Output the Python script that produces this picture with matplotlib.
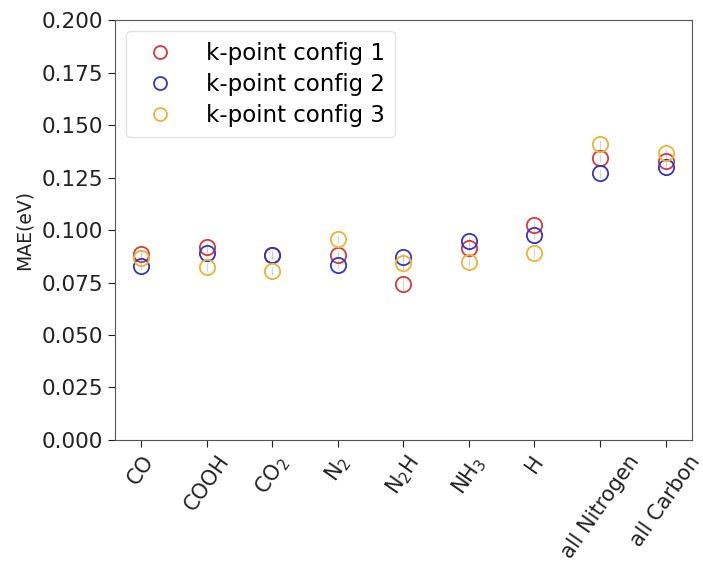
import numpy as np
import matplotlib
matplotlib.use("Agg")
import matplotlib.pyplot as plt

categories = ["CO", "COOH", "CO$_2$", "N$_2$", "N$_2$H", "NH$_3$", "H",
              "all Nitrogen", "all Carbon"]
config1 = [0.0885, 0.0920, 0.0880, 0.0880, 0.0745, 0.0915, 0.1022, 0.1342, 0.1328]
config2 = [0.0828, 0.0892, 0.0880, 0.0835, 0.0872, 0.0950, 0.0978, 0.1270, 0.1300]
config3 = [0.0868, 0.0825, 0.0805, 0.0956, 0.0845, 0.0848, 0.0890, 0.1408, 0.1368]
err1 = [0.002, 0.002, 0.002, 0.002, 0.003, 0.002, 0.002, 0.002, 0.002]
err2 = [0.002, 0.002, 0.002, 0.002, 0.002, 0.002, 0.002, 0.002, 0.002]
err3 = [0.002, 0.002, 0.002, 0.002, 0.003, 0.002, 0.002, 0.002, 0.002]
labels = ["k-point config 1", "k-point config 2", "k-point config 3"]
colors = ["#d83a3a", "#3535c8", "#f0b233"]

fig = plt.figure(figsize=(7.03, 5.61), dpi=100)
ax = fig.add_axes([0.1636, 0.2157, 0.8204, 0.7486])

x = np.arange(len(categories))
for vals, errs, lab, col in zip([config1, config2, config3],
                                [err1, err2, err3], labels, colors):
    ax.errorbar(x, vals, yerr=errs, fmt="none", ecolor="#b8c8dc",
                elinewidth=0.8, alpha=0.7, zorder=1)
    ax.plot(x, vals, linestyle="none", marker="o", markersize=11,
            markerfacecolor="none", markeredgecolor=col,
            markeredgewidth=1.3, label=lab, zorder=2)

ax.set_ylim(0.0, 0.2)
ax.set_yticks(np.arange(0.0, 0.2001, 0.025))
ax.yaxis.set_major_formatter(matplotlib.ticker.FormatStrFormatter("%.3f"))

ax.set_xticks(x)
ax.set_xticklabels(categories, rotation=55, ha="center")
ax.tick_params(axis="both", colors="#222222", length=5)
ax.tick_params(axis="y", labelsize=15.5)
ax.tick_params(axis="x", labelsize=15)

ax.set_ylabel("MAE(eV)", fontsize=13.5, color="#222222", labelpad=6)
for sp in ax.spines.values():
    sp.set_color("#555555")

leg = ax.legend(loc="upper left", fontsize=16.5, frameon=True,
                handletextpad=1.0, borderpad=0.45, labelspacing=0.35,
                markerscale=0.85)
leg.get_frame().set_edgecolor("#dddddd")

fig.savefig("out.png", dpi=100)
